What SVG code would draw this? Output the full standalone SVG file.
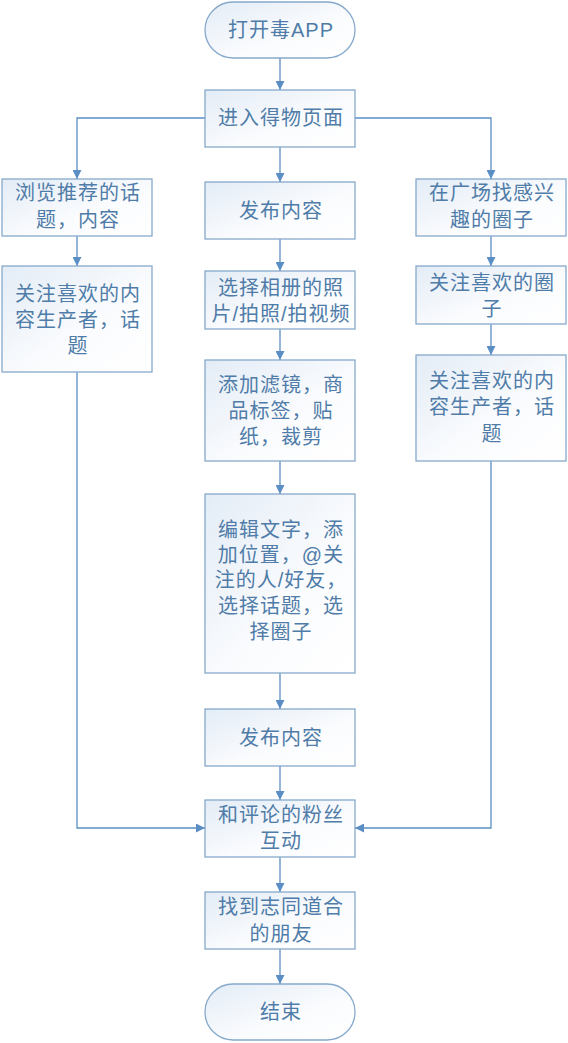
<svg xmlns="http://www.w3.org/2000/svg" width="568" height="1043" viewBox="0 0 568 1043">
<defs>
<linearGradient id="g" x1="0" y1="0" x2="1" y2="1">
<stop offset="0" stop-color="#e3ecf6"/>
<stop offset="0.6" stop-color="#fbfcfe"/>
<stop offset="1" stop-color="#ffffff"/>
</linearGradient>
<marker id="ah" viewBox="0 0 10 10" refX="10" refY="5" markerWidth="9" markerHeight="9" orient="auto" markerUnits="userSpaceOnUse">
<path d="M0,0 L10,5 L0,10 z" fill="#5b8ec4"/>
</marker>
<style>
.n{fill:url(#g);stroke:#86a9cb;stroke-width:1.3}
.t{font-family:"Liberation Sans","Noto Sans CJK SC",sans-serif;font-size:20px;letter-spacing:1px;fill:#4f7ca8;text-anchor:middle}
.c{fill:none;stroke:#5b8ec4;stroke-width:1.3;marker-end:url(#ah)}
</style>
</defs>
<rect width="568" height="1043" fill="#ffffff"/>
<g id="connectors">
<path class="c" d="M280,58 V90"/>
<path class="c" d="M205,118 H77 V179"/>
<path class="c" d="M355,118 H491 V179"/>
<path class="c" d="M280,147 V182"/>
<path class="c" d="M77,236 V266"/>
<path class="c" d="M280,239 V271"/>
<path class="c" d="M491,236 V266"/>
<path class="c" d="M280,329 V360"/>
<path class="c" d="M491,324 V355"/>
<path class="c" d="M280,461 V494"/>
<path class="c" d="M280,673 V709"/>
<path class="c" d="M280,766 V800"/>
<path class="c" d="M77,372 V828 H205"/>
<path class="c" d="M491,461 V828 H355"/>
<path class="c" d="M280,857 V892"/>
<path class="c" d="M280,949 V984"/>
</g>
<g id="start"><rect class="n" x="205" y="2" width="150" height="56" rx="28"/><text class="t" x="281" y="37">打开毒APP</text></g>
<g id="enter"><rect class="n" x="205" y="90" width="150" height="57"/><text class="t" x="281" y="125">进入得物页面</text></g>
<g id="browse"><rect class="n" x="2" y="179" width="150" height="57"/><text class="t"><tspan x="78" y="200">浏览推荐的话</tspan><tspan x="78" y="227">题，内容</tspan></text></g>
<g id="publish1"><rect class="n" x="205" y="182" width="150" height="57"/><text class="t" x="281" y="218">发布内容</text></g>
<g id="square"><rect class="n" x="416" y="179" width="150" height="57"/><text class="t"><tspan x="492" y="200">在广场找感兴</tspan><tspan x="492" y="227">趣的圈子</tspan></text></g>
<g id="followL"><rect class="n" x="2" y="266" width="150" height="106"/><text class="t"><tspan x="78" y="301">关注喜欢的内</tspan><tspan x="78" y="327">容生产者，话</tspan><tspan x="78" y="353">题</tspan></text></g>
<g id="album"><rect class="n" x="205" y="271" width="150" height="58"/><text class="t"><tspan x="281" y="295">选择相册的照</tspan><tspan x="281" y="321">片/拍照/拍视频</tspan></text></g>
<g id="followCircle"><rect class="n" x="416" y="266" width="150" height="58"/><text class="t"><tspan x="492" y="290">关注喜欢的圈</tspan><tspan x="492" y="316">子</tspan></text></g>
<g id="filter"><rect class="n" x="205" y="360" width="150" height="101"/><text class="t"><tspan x="281" y="392">添加滤镜，商</tspan><tspan x="281" y="418">品标签，贴</tspan><tspan x="281" y="444">纸，裁剪</tspan></text></g>
<g id="followR"><rect class="n" x="416" y="355" width="150" height="106"/><text class="t"><tspan x="492" y="388">关注喜欢的内</tspan><tspan x="492" y="414">容生产者，话</tspan><tspan x="492" y="441">题</tspan></text></g>
<g id="edit"><rect class="n" x="205" y="494" width="150" height="179"/><text class="t"><tspan x="281" y="537">编辑文字，添</tspan><tspan x="281" y="562">加位置，@关</tspan><tspan x="281" y="587">注的人/好友，</tspan><tspan x="281" y="613">选择话题，选</tspan><tspan x="281" y="639">择圈子</tspan></text></g>
<g id="publish2"><rect class="n" x="205" y="709" width="150" height="57"/><text class="t" x="281" y="745">发布内容</text></g>
<g id="interact"><rect class="n" x="205" y="800" width="150" height="57"/><text class="t"><tspan x="281" y="822">和评论的粉丝</tspan><tspan x="281" y="848">互动</tspan></text></g>
<g id="friends"><rect class="n" x="205" y="892" width="150" height="57"/><text class="t"><tspan x="281" y="914">找到志同道合</tspan><tspan x="281" y="941">的朋友</tspan></text></g>
<g id="end"><rect class="n" x="205" y="984" width="150" height="56" rx="28"/><text class="t" x="281" y="1019">结束</text></g>
</svg>
